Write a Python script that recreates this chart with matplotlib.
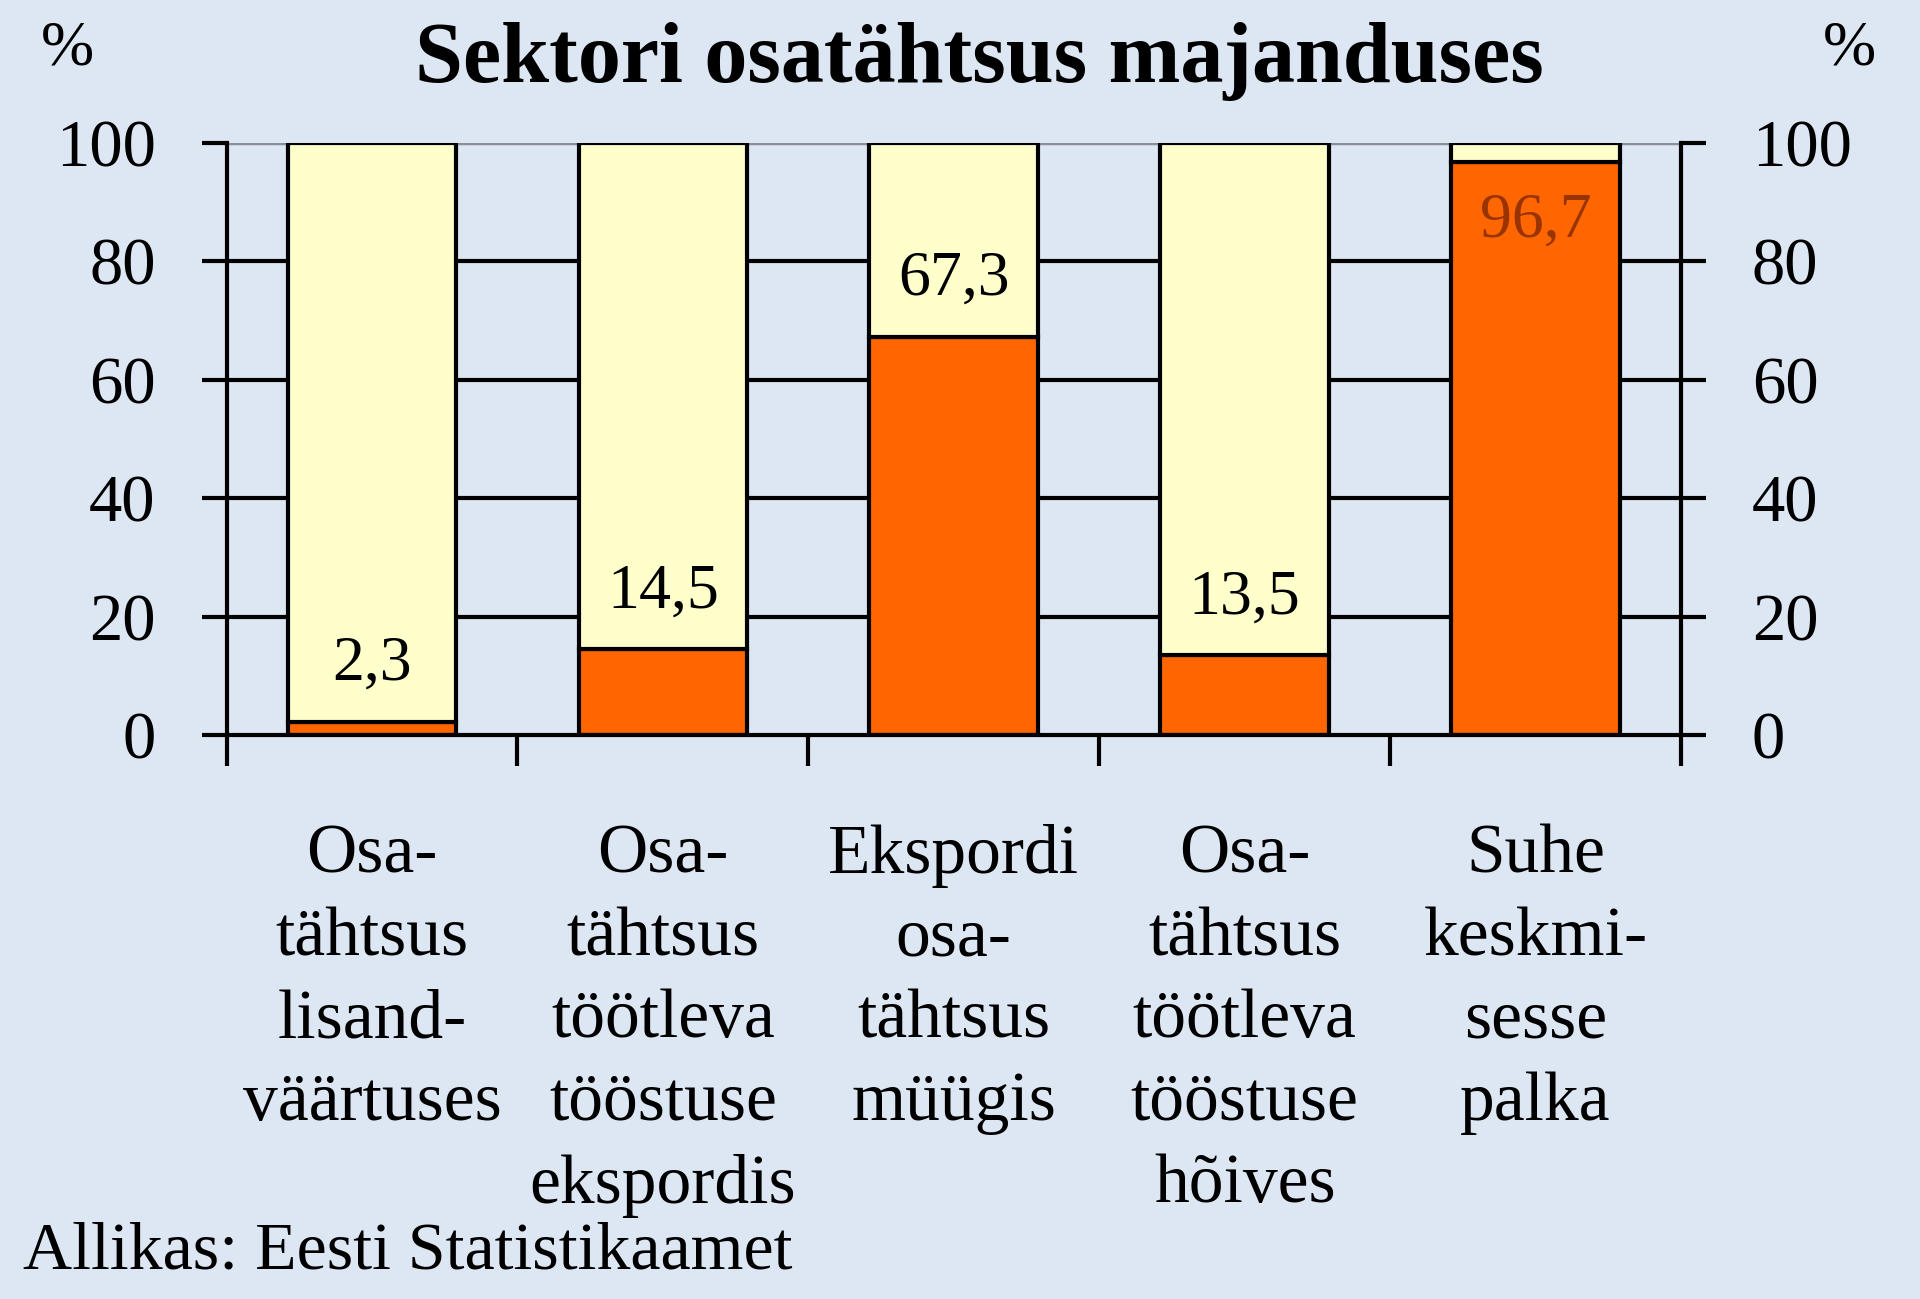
import numpy as np
import matplotlib.pyplot as plt

categories = [
    "Osa-\ntähtsus\nlisand-\nväärtuses",
    "Osa-\ntähtsus\ntöötleva\ntööstuse\nekspordis",
    "Ekspordi\nosa-\ntähtsus\nmüügis",
    "Osa-\ntähtsus\ntöötleva\ntööstuse\nhõives",
    "Suhe\nkeskmi-\nsesse\npalka",
]
sector = [2.3, 14.5, 67.3, 13.5, 96.7]
value_labels = ["2,3", "14,5", "67,3", "13,5", "96,7"]
yticks = [0, 20, 40, 60, 80, 100]

bg = "#dde7f3"
orange = "#ff6600"
cream = "#ffffcc"

plt.rcParams["font.family"] = ["Liberation Serif", "DejaVu Serif"]

fig = plt.figure(figsize=(19.2, 12.99), dpi=100, facecolor=bg)
ax = fig.add_axes([0.118, 0.434, 0.7575, 0.456], facecolor=bg)

x = np.arange(len(categories))
rest = [100 - v for v in sector]
w = 0.58

ax.bar(x, sector, width=w, color=orange, edgecolor="black", linewidth=3, zorder=3)
ax.bar(x, rest, bottom=sector, width=w, color=cream, edgecolor="black", linewidth=3, zorder=3)

for i, (v, lab) in enumerate(zip(sector, value_labels)):
    if v > 90:
        ax.annotate(lab, (x[i], v), xytext=(0, -22), textcoords="offset points",
                    ha="center", va="top", fontsize=46, color="#993300", zorder=4)
    else:
        ax.annotate(lab, (x[i], v), xytext=(0, 20), textcoords="offset points",
                    ha="center", va="bottom", fontsize=46, color="black", zorder=4)

ax.set_xlim(-0.5, len(categories) - 0.5)
ax.set_ylim(0, 100)

# gridlines behind bars
for t in yticks[1:-1]:
    ax.axhline(t, color="black", linewidth=3, zorder=1)
ax.axhline(100, color="#8a8f99", linewidth=2.5, zorder=1)

ax.spines["top"].set_visible(False)
for s in ["left", "right", "bottom"]:
    ax.spines[s].set_linewidth(3)
    ax.spines[s].set_zorder(5)

ax.set_yticks(yticks)
ax.tick_params(axis="y", which="both", direction="out", length=18, width=3,
               labelsize=48, pad=33, left=True, right=True,
               labelleft=True, labelright=True)

ax.set_xticks(np.arange(len(categories) + 1) - 0.5)
ax.set_xticklabels([])
ax.tick_params(axis="x", which="major", direction="out", length=22, width=3)
ax.set_xticks(x, minor=True)
ax.set_xticklabels(categories, minor=True, fontsize=50, linespacing=1.39, va="top")
ax.tick_params(axis="x", which="minor", length=0, pad=64)

fig.text(0.51, 0.953, "Sektori osatähtsus majanduses", ha="center", va="center",
         fontsize=62, fontweight="bold")
fig.text(0.035, 0.962, "%", ha="center", va="center", fontsize=46)
fig.text(0.963, 0.962, "%", ha="center", va="center", fontsize=46)
fig.text(0.012, 0.036, "Allikas: Eesti Statistikaamet", ha="left", va="center", fontsize=49)

fig.savefig("out.png", dpi=100, facecolor=bg)
